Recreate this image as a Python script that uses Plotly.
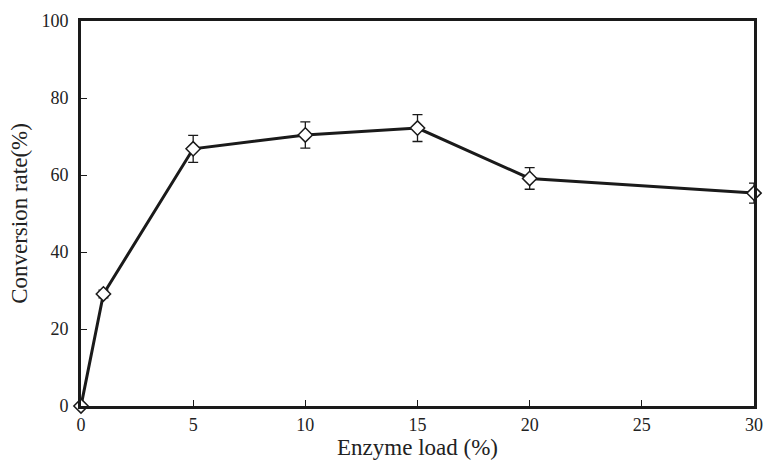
import plotly.graph_objects as go

enzyme_load = [0, 1, 5, 10, 15, 20, 30]
conversion = [0, 29.1, 66.8, 70.4, 72.2, 59.1, 55.3]
error = [0, 1.0, 3.5, 3.4, 3.5, 2.8, 2.6]
x_ticks = [0, 5, 10, 15, 20, 25, 30]
y_ticks = [0, 20, 40, 60, 80, 100]

font_family = "Liberation Serif, Times New Roman, serif"

fig = go.Figure()
fig.add_trace(go.Scatter(
    x=enzyme_load, y=conversion,
    mode="lines+markers",
    line=dict(color="#1a1a1a", width=3),
    marker=dict(symbol="diamond", size=11, color="white",
                line=dict(color="#1a1a1a", width=1.5)),
    error_y=dict(type="data", array=error, visible=True,
                 color="#1a1a1a", thickness=1.3, width=5),
    cliponaxis=False,
    showlegend=False,
))

fig.update_layout(
    width=763, height=463,
    margin=dict(l=81, r=9, t=21, b=57),
    paper_bgcolor="white", plot_bgcolor="white",
    font=dict(family=font_family, color="#222", size=18),
    xaxis=dict(
        range=[0, 30], tickvals=x_ticks, ticktext=[str(v) for v in x_ticks],
        showgrid=False, zeroline=False, automargin=False,
        showline=True, linecolor="#1a1a1a", linewidth=3, mirror=True,
        ticks="inside", ticklen=6, tickwidth=1.2, tickcolor="#1a1a1a",
        tickfont=dict(size=18), ticklabelstandoff=0,
        title=dict(text="Enzyme load (%)", font=dict(size=23), standoff=4),
    ),
    yaxis=dict(
        range=[0, 100], tickvals=y_ticks, ticktext=[str(v) for v in y_ticks],
        showgrid=False, zeroline=False, automargin=False,
        showline=True, linecolor="#1a1a1a", linewidth=3, mirror=True,
        ticks="inside", ticklen=6, tickwidth=1.2, tickcolor="#1a1a1a",
        tickfont=dict(size=18), ticklabelstandoff=6,
        title=dict(text="Conversion rate(%)", font=dict(size=23), standoff=8),
    ),
)

fig.write_html("out.html")
